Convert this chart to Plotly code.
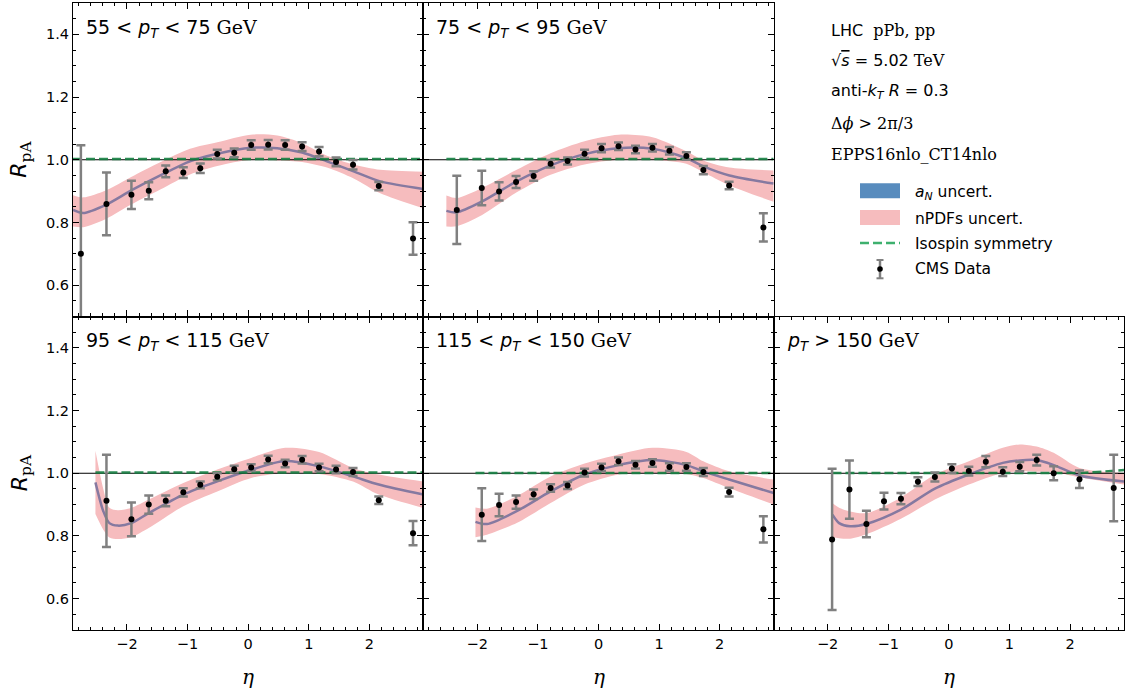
import plotly.graph_objects as go

# ---------------------------------------------------------------- data ----
# CMS dijet eta bin centres (shared by all pT bins)
ETA_BINS = [-2.76, -2.338, -1.926, -1.64, -1.36, -1.07, -0.79, -0.51, -0.23,
            0.05, 0.33, 0.61, 0.89, 1.17, 1.45, 1.73, 2.155, 2.72]

# CMS R_pA values and uncertainties per pT bin
CMS_R_55_75 = [0.700, 0.859, 0.888, 0.901, 0.963, 0.959, 0.973, 1.018, 1.022,
               1.047, 1.048, 1.047, 1.042, 1.026, 0.993, 0.984, 0.916, 0.749]
CMS_E_55_75 = [0.346, 0.100, 0.045, 0.027, 0.019, 0.017, 0.015, 0.014, 0.014,
               0.015, 0.015, 0.015, 0.014, 0.015, 0.014, 0.015, 0.013, 0.052]

CMS_R_75_95 = [0.840, 0.910, 0.899, 0.929, 0.948, 0.987, 0.996, 1.019, 1.037,
               1.043, 1.033, 1.038, 1.029, 1.012, 0.967, 0.918, 0.784]
CMS_E_75_95 = [0.109, 0.055, 0.029, 0.019, 0.015, 0.012, 0.011, 0.013, 0.013,
               0.012, 0.012, 0.012, 0.012, 0.012, 0.013, 0.012, 0.045]

CMS_R_95_115 = [0.912, 0.853, 0.900, 0.912, 0.939, 0.963, 0.989, 1.013, 1.018,
                1.044, 1.031, 1.043, 1.018, 1.012, 1.004, 0.914, 0.809]
CMS_E_95_115 = [0.147, 0.054, 0.029, 0.017, 0.013, 0.011, 0.011, 0.011, 0.011,
                0.012, 0.012, 0.012, 0.012, 0.012, 0.013, 0.012, 0.039]

CMS_R_115_150 = [0.868, 0.899, 0.908, 0.933, 0.953, 0.961, 1.002, 1.018, 1.038,
                 1.027, 1.033, 1.020, 1.020, 1.004, 0.940, 0.821]
CMS_E_115_150 = [0.084, 0.036, 0.021, 0.015, 0.012, 0.011, 0.012, 0.012, 0.012,
                 0.012, 0.012, 0.012, 0.012, 0.013, 0.014, 0.042]

CMS_R_150 = [0.789, 0.948, 0.838, 0.911, 0.919, 0.973, 0.988, 1.015, 1.007,
             1.037, 1.005, 1.021, 1.042, 1.000, 0.981, 0.953]
CMS_E_150 = [0.225, 0.093, 0.042, 0.027, 0.018, 0.014, 0.014, 0.014, 0.014,
             0.018, 0.014, 0.015, 0.017, 0.022, 0.028, 0.106]

# EPPS16nlo_CT14nlo predictions: central value and nPDF band
TH_ETA_55_75 = [-2.89, -2.72, -2.34, -1.93, -1.45, -0.96, -0.51, 0.04, 0.48,
                0.89, 1.30, 1.74, 2.18, 2.89]
TH_MID_55_75 = [0.840, 0.830, 0.857, 0.902, 0.950, 0.995, 1.019, 1.038, 1.037,
                1.023, 0.995, 0.963, 0.931, 0.907]
TH_HI_55_75 = [0.887, 0.880, 0.903, 0.945, 0.992, 1.035, 1.056, 1.080, 1.077,
               1.053, 1.013, 0.985, 0.968, 0.962]
TH_LO_55_75 = [0.787, 0.785, 0.812, 0.857, 0.905, 0.953, 0.980, 1.000, 0.998,
               0.993, 0.975, 0.940, 0.893, 0.845]

TH_ETA_75_95 = [-2.51, -2.34, -1.92, -1.35, -0.79, -0.23, 0.33, 0.89, 1.45,
                1.73, 2.16, 2.89]
TH_MID_75_95 = [0.837, 0.832, 0.867, 0.931, 0.982, 1.018, 1.037, 1.035, 1.005,
                0.979, 0.950, 0.924]
TH_HI_75_95 = [0.886, 0.878, 0.910, 0.968, 1.021, 1.059, 1.080, 1.072, 1.027,
               0.998, 0.975, 0.966]
TH_LO_75_95 = [0.787, 0.788, 0.824, 0.896, 0.952, 0.985, 1.000, 1.000, 0.987,
               0.960, 0.918, 0.866]

TH_ETA_95_115 = [-2.52, -2.39, -2.29, -2.15, -1.93, -1.64, -1.07, -0.51, 0.05,
                 0.61, 1.17, 1.73, 2.155, 2.89]
TH_MID_95_115 = [0.971, 0.879, 0.841, 0.833, 0.841, 0.873, 0.932, 0.974, 1.011,
                 1.039, 1.022, 0.990, 0.964, 0.932]
TH_HI_95_115 = [1.072, 0.950, 0.890, 0.882, 0.889, 0.916, 0.969, 1.012, 1.049,
                1.081, 1.068, 1.017, 0.996, 0.974]
TH_LO_95_115 = [0.870, 0.820, 0.795, 0.790, 0.796, 0.825, 0.895, 0.942, 0.985,
                1.001, 0.998, 0.974, 0.932, 0.889]

TH_ETA_115_150 = [-2.03, -1.84, -1.35, -0.79, -0.23, 0.33, 0.89, 1.45, 1.73,
                  2.155, 2.89]
TH_MID_115_150 = [0.845, 0.838, 0.879, 0.942, 0.996, 1.026, 1.042, 1.026, 1.006,
                  0.980, 0.937]
TH_HI_115_150 = [0.891, 0.887, 0.927, 0.990, 1.031, 1.060, 1.081, 1.068, 1.038,
                 1.006, 0.980]
TH_LO_115_150 = [0.796, 0.804, 0.841, 0.905, 0.964, 0.996, 1.001, 0.998, 0.985,
                 0.953, 0.900]

TH_ETA_150 = [-1.92, -1.81, -1.63, -1.35, -0.79, -0.23, 0.33, 0.89, 1.17, 1.45,
              1.73, 2.155, 2.89]
TH_MID_150 = [0.868, 0.841, 0.831, 0.839, 0.884, 0.951, 0.996, 1.033, 1.041,
              1.042, 1.026, 0.993, 0.974]
TH_HI_150 = [0.905, 0.890, 0.878, 0.873, 0.923, 0.996, 1.038, 1.081, 1.092,
             1.085, 1.065, 1.017, 1.001]
TH_LO_150 = [0.796, 0.793, 0.791, 0.806, 0.855, 0.916, 0.964, 1.001, 1.006,
             1.005, 1.004, 0.987, 0.964]

# isospin-symmetric reference
ISO_ETA_55_75 = [-2.89, 2.89]
ISO_VAL_55_75 = [1.002, 1.002]
ISO_ETA_75_95 = [-2.51, 2.89]
ISO_VAL_75_95 = [1.002, 1.002]
ISO_ETA_95_115 = [-2.52, 2.89]
ISO_VAL_95_115 = [1.002, 1.002]
ISO_ETA_115_150 = [-2.03, 2.89]
ISO_VAL_115_150 = [1.001, 1.001]
ISO_ETA_150 = [-1.92, 2.2, 2.89]
ISO_VAL_150 = [1.001, 1.001, 1.010]

PT_LABELS = ["55 &lt; <i>p</i><sub><i>T</i></sub> &lt; 75",
             "75 &lt; <i>p</i><sub><i>T</i></sub> &lt; 95",
             "95 &lt; <i>p</i><sub><i>T</i></sub> &lt; 115",
             "115 &lt; <i>p</i><sub><i>T</i></sub> &lt; 150",
             "<i>p</i><sub><i>T</i></sub> &gt; 150"]

X_RANGE = [-2.89, 2.89]
Y_RANGE = [0.5, 1.5]
UNITY = [1.0, 1.0]

# ------------------------------------------------------------- styling ----
SANS = "DejaVu Sans"
SERIF = "DejaVu Serif"
BAND_COLOR = "rgb(246,188,190)"
LINE_COLOR = "#8679a0"
ISO_COLOR = "rgba(22,128,66,0.9)"
ISO_KEY_COLOR = "rgb(62,176,110)"
AN_COLOR = "#588cbe"
ERR_COLOR = "#808080"

W, H = 1126, 690
ML, MR, MT, MB = 73, 2, 3, 60

panels = [
    # (axis suffix, first bin, R, err, theory eta, mid, lo, hi, iso eta, iso, label)
    ("", 0, CMS_R_55_75, CMS_E_55_75, TH_ETA_55_75, TH_MID_55_75, TH_LO_55_75,
     TH_HI_55_75, ISO_ETA_55_75, ISO_VAL_55_75, PT_LABELS[0]),
    ("2", 1, CMS_R_75_95, CMS_E_75_95, TH_ETA_75_95, TH_MID_75_95, TH_LO_75_95,
     TH_HI_75_95, ISO_ETA_75_95, ISO_VAL_75_95, PT_LABELS[1]),
    ("3", 1, CMS_R_95_115, CMS_E_95_115, TH_ETA_95_115, TH_MID_95_115,
     TH_LO_95_115, TH_HI_95_115, ISO_ETA_95_115, ISO_VAL_95_115, PT_LABELS[2]),
    ("4", 2, CMS_R_115_150, CMS_E_115_150, TH_ETA_115_150, TH_MID_115_150,
     TH_LO_115_150, TH_HI_115_150, ISO_ETA_115_150, ISO_VAL_115_150, PT_LABELS[3]),
    ("5", 2, CMS_R_150, CMS_E_150, TH_ETA_150, TH_MID_150, TH_LO_150, TH_HI_150,
     ISO_ETA_150, ISO_VAL_150, PT_LABELS[4]),
]

domains = {
    "": ([0, 1 / 3], [0.5, 1]),
    "2": ([1 / 3, 2 / 3], [0.5, 1]),
    "3": ([0, 1 / 3], [0, 0.5]),
    "4": ([1 / 3, 2 / 3], [0, 0.5]),
    "5": ([2 / 3, 1], [0, 0.5]),
}

fig = go.Figure()

for suf, first, r, e, teta, tmid, tlo, thi, ieta, ival, label in panels:
    xa, ya = "x" + suf, "y" + suf
    # nPDF uncertainty band
    fig.add_trace(go.Scatter(x=teta, y=tlo, xaxis=xa, yaxis=ya, mode="lines",
                             line=dict(width=0, shape="spline", smoothing=0.8),
                             hoverinfo="skip", showlegend=False))
    fig.add_trace(go.Scatter(x=teta, y=thi, xaxis=xa, yaxis=ya, mode="lines",
                             line=dict(width=0, shape="spline", smoothing=0.8),
                             fill="tonexty", fillcolor=BAND_COLOR,
                             hoverinfo="skip", showlegend=False))
    # central prediction (a_N band is narrower than the line)
    fig.add_trace(go.Scatter(x=teta, y=tmid, xaxis=xa, yaxis=ya, mode="lines",
                             line=dict(color=LINE_COLOR, width=2.5,
                                       shape="spline", smoothing=0.8),
                             showlegend=False))
    # R = 1 reference
    fig.add_trace(go.Scatter(x=X_RANGE, y=UNITY, xaxis=xa, yaxis=ya,
                             mode="lines", line=dict(color="black", width=1),
                             hoverinfo="skip", showlegend=False))
    # isospin symmetry
    fig.add_trace(go.Scatter(x=ieta, y=ival, xaxis=xa, yaxis=ya, mode="lines",
                             line=dict(color=ISO_COLOR, width=2.5,
                                       dash="9px,4px"),
                             showlegend=False))
    # CMS data
    fig.add_trace(go.Scatter(x=ETA_BINS[first:first + len(r)], y=r,
                             xaxis=xa, yaxis=ya, mode="markers",
                             marker=dict(color="black", size=6),
                             error_y=dict(type="data", array=e, color=ERR_COLOR,
                                          thickness=2.5, width=4.5),
                             showlegend=False))
    # pT bin label
    fig.add_annotation(xref=xa + " domain", yref=ya + " domain", x=0, y=1,
                       xshift=11, yshift=-25, xanchor="left", yanchor="middle",
                       showarrow=False,
                       text=label + f" <span style='font-family:{SERIF}'>GeV</span>",
                       font=dict(family=SANS, size=19, color="black"))

axis_common = dict(showline=True, linecolor="black", linewidth=1.2,
                   mirror="allticks", ticks="inside", ticklen=6, tickwidth=1,
                   tickcolor="black", showgrid=False, zeroline=False,
                   tickfont=dict(family=SANS, size=14.5, color="black"))

layout = {}
for suf, (dx, dy) in domains.items():
    bottom = dy[0] == 0
    left = dx[0] == 0
    layout["xaxis" + suf] = dict(axis_common, domain=dx, range=X_RANGE,
                                 anchor="y" + suf, tick0=0, dtick=1,
                                 showticklabels=bottom,
                                 minor=dict(ticks="inside", ticklen=3,
                                            dtick=0.2, tickcolor="black",
                                            tickwidth=1))
    layout["yaxis" + suf] = dict(axis_common, domain=dy, range=Y_RANGE,
                                 anchor="x" + suf, tick0=0, dtick=0.2,
                                 tickformat=".1f", showticklabels=left,
                                 minor=dict(ticks="inside", ticklen=3,
                                            dtick=0.05, tickcolor="black",
                                            tickwidth=1))

fig.update_layout(width=W, height=H,
                  margin=dict(l=ML, r=MR, t=MT, b=MB),
                  paper_bgcolor="white", plot_bgcolor="white",
                  showlegend=False, **layout)

# axis titles
for ya in ("y", "y3"):
    fig.add_annotation(xref="paper", yref=ya + " domain", x=(21 - ML) / (W - ML - MR),
                       y=0.5, xanchor="center", yanchor="middle", textangle=-90,
                       showarrow=False,
                       text=f"<i>R</i><sub><span style='font-family:{SERIF}'>pA</span></sub>",
                       font=dict(family=SANS, size=22, color="black"))
for xa in ("x3", "x4", "x5"):
    fig.add_annotation(xref=xa + " domain", yref="paper", x=0.5,
                       y=-(677 - (H - MB)) / (H - MT - MB), xanchor="center",
                       yanchor="middle", showarrow=False, text="<i>η</i>",
                       font=dict(family=SERIF, size=20, color="black"))


# ------------------------------------------------------ legend / notes ----
def px(xp):
    return (xp - ML) / (W - ML - MR)


def py(yp):
    return (H - MB - yp) / (H - MT - MB)


notes = ["LHC  <span style='font-family:%s'>pPb, pp</span>" % SERIF,
         "√<span style='text-decoration:overline'><i>s</i></span> = 5.02"
         "<span style='font-family:%s'> TeV</span>" % SERIF,
         "anti-<i>k</i><sub><i>T</i></sub> <i>R</i> = 0.3",
         "<span style='font-family:%s'>Δ<i>ϕ</i> &gt; 2π/3</span>" % SERIF,
         "<span style='font-family:%s'>EPPS16nlo_CT14nlo</span>" % SERIF]
note_y = [30, 60, 91, 123, 154.5]
for t, yy in zip(notes, note_y):
    fig.add_annotation(xref="paper", yref="paper", x=px(829), y=py(yy),
                       xanchor="left", yanchor="middle", showarrow=False,
                       text=t, font=dict(family=SANS, size=16, color="black"))

entries = ["<i>a</i><sub><i>N</i></sub> uncert.", "nPDFs uncert.",
           "Isospin symmetry", "CMS Data"]
entry_y = [192.5, 218.5, 243.5, 269]
for t, yy in zip(entries, entry_y):
    fig.add_annotation(xref="paper", yref="paper", x=px(913), y=py(yy),
                       xanchor="left", yanchor="middle", showarrow=False,
                       text=t, font=dict(family=SANS, size=15.5, color="black"))

fig.add_shape(type="rect", xref="paper", yref="paper", x0=px(860), x1=px(900),
              y0=py(198.3), y1=py(183.3), fillcolor=AN_COLOR, line_width=0)
fig.add_shape(type="rect", xref="paper", yref="paper", x0=px(860), x1=px(900),
              y0=py(225), y1=py(210), fillcolor=BAND_COLOR, line_width=0)
fig.add_shape(type="line", xref="paper", yref="paper", x0=px(860), x1=px(900),
              y0=py(243), y1=py(243),
              line=dict(color=ISO_KEY_COLOR, width=2.5, dash="9px,4px"))
fig.add_shape(type="line", xref="paper", yref="paper", x0=px(880), x1=px(880),
              y0=py(260), y1=py(278.3), line=dict(color=ERR_COLOR, width=2.5))
for cy in (260, 278.3):
    fig.add_shape(type="line", xref="paper", yref="paper", x0=px(876.5),
                  x1=px(883.5), y0=py(cy), y1=py(cy),
                  line=dict(color=ERR_COLOR, width=2))
fig.add_shape(type="circle", xref="paper", yref="paper", x0=px(877.2),
              x1=px(882.8), y0=py(271.8), y1=py(266.2),
              fillcolor="black", line_width=0)

fig.write_html("out.html")
